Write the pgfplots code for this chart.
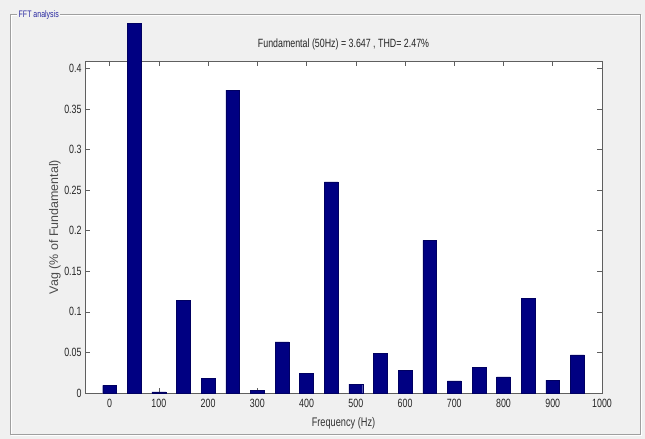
\documentclass[border=0pt]{standalone}
\usepackage{fontspec}
\setmainfont{Liberation Sans}[FakeStretch=0.74]
\newfontfamily\widefont{Liberation Sans}
\usepackage{pgfplots}
\pgfplotsset{compat=1.18}
\definecolor{bgray}{RGB}{240,240,240}
\definecolor{barblue}{RGB}{0,0,130}
\definecolor{boxblue}{RGB}{40,40,160}
\definecolor{axgray}{RGB}{95,95,95}
\begin{document}
\begin{tikzpicture}
\fill[bgray] (0bp,0bp) rectangle (645bp,439bp);
\draw[white,line width=1bp] (11bp,3bp) rectangle (641bp,423bp);
\draw[gray!75,line width=1bp] (10bp,4bp) rectangle (640bp,424bp);
\node[fill=bgray,text=boxblue,font=\fontsize{9.5}{10}\selectfont,inner sep=1.5bp,anchor=west] at (17bp,424bp) {FFT analysis};
\begin{axis}[
  at={(85bp,46bp)}, anchor=south west, scale only axis,
  width=517bp, height=332bp,
  xmin=-50, xmax=1000, ymin=0, ymax=0.409,
  clip=false,
  axis background/.style={fill=white},
  axis line style={axgray},
  ybar, bar width=28, bar shift=0pt,
  xtick={0,100,200,300,400,500,600,700,800,900,1000},
  xticklabels={0,100,200,300,400,500,600,700,800,900,1000},
  ytick={0,0.05,0.1,0.15,0.2,0.25,0.3,0.35,0.4},
  yticklabels={0,0.05,0.1,0.15,0.2,0.25,0.3,0.35,0.4},
  /pgf/number format/assume math mode=true,
  tick align=inside, major tick length=5bp,
  tick style={axgray, line width=0.6bp},
  every tick label/.append style={font=\fontsize{12}{12}\selectfont, text=black!85},
  xticklabel style={yshift=-3bp},
  title={Fundamental (50Hz) = 3.647 , THD= 2.47\%},
  title style={at={(axis description cs:0.5,1)}, anchor=center, yshift=11bp, font=\fontsize{12}{12}\selectfont, text=black!85},
  xlabel={Frequency (Hz)},
  xlabel style={at={(axis description cs:0.5,0)}, anchor=center, yshift=-30bp, font=\fontsize{12.5}{13}\selectfont, text=black!80},
  ylabel={Vag (\% of Fundamental)},
  ylabel style={at={(axis description cs:-0.058,0.5)}, anchor=center, font=\widefont\fontsize{12.5}{13}\selectfont, text=black!70},
]
\addplot[fill=barblue, draw=barblue!75!black] coordinates {
(0,0.0095) (50,0.455) (100,0.0015) (150,0.114) (200,0.018) (250,0.373)
(300,0.003) (350,0.063) (400,0.024) (450,0.26) (500,0.011) (550,0.049)
(600,0.028) (650,0.188) (700,0.015) (750,0.032) (800,0.020) (850,0.117)
(900,0.016) (950,0.047)
};
\end{axis}
\end{tikzpicture}
\end{document}
